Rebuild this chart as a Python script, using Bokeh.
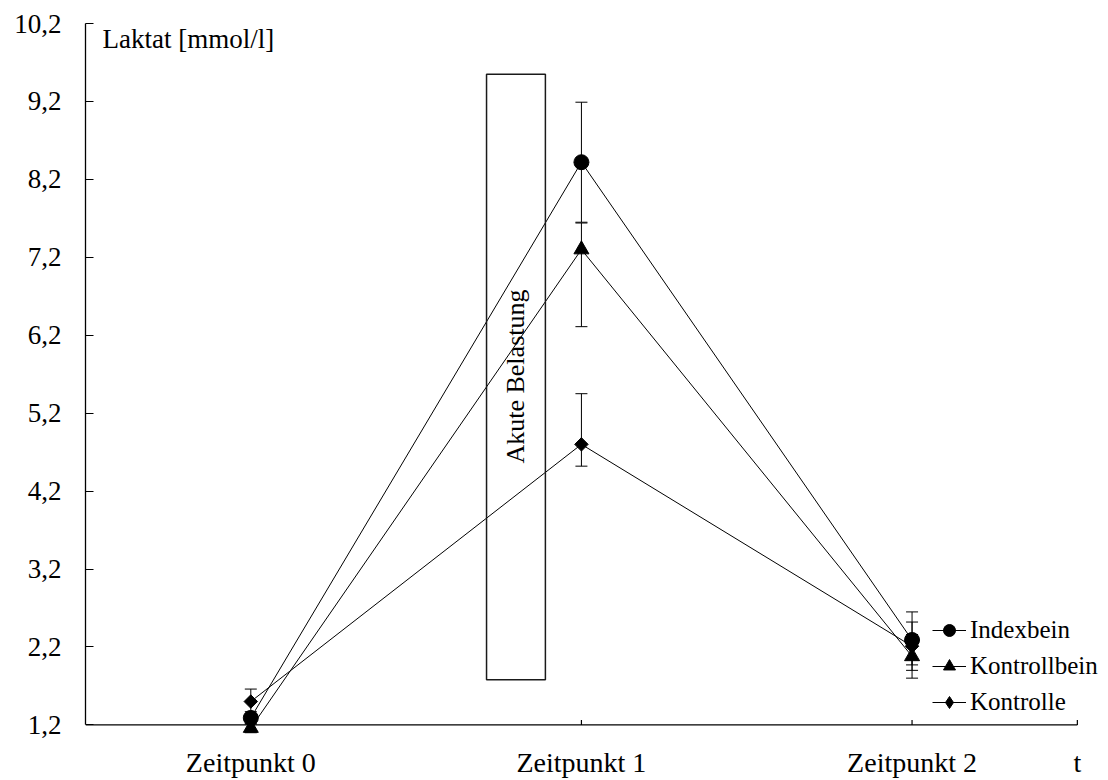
import math
from bokeh.plotting import figure
from bokeh.models import (Range1d, ColumnDataSource, Whisker, TeeHead,
                          BoxAnnotation, Label, Legend, LegendItem, FixedTicker)
from bokeh.embed import file_html
from bokeh.resources import INLINE

# ---- data ----
categories = ["Zeitpunkt 0", "Zeitpunkt 1", "Zeitpunkt 2"]
series_names = ["Indexbein", "Kontrollbein", "Kontrolle"]

indexbein = [1.29, 8.42, 2.29]
indexbein_err_up = [0.08, 0.77, 0.36]
indexbein_err_lo = [0.08, 0.77, 0.32]

kontrollbein = [1.16, 7.30, 2.08]
kontrollbein_err_up = [0.06, 0.34, 0.28]
kontrollbein_err_lo = [0.06, 0.99, 0.28]

kontrolle = [1.50, 4.80, 2.21]
kontrolle_err_up = [0.16, 0.65, 0.31]
kontrolle_err_lo = [0.16, 0.28, 0.31]

y_ticks = [1.2, 2.2, 3.2, 4.2, 5.2, 6.2, 7.2, 8.2, 9.2, 10.2]
y_tick_labels = ["1,2", "2,2", "3,2", "4,2", "5,2", "6,2", "7,2", "8,2", "9,2", "10,2"]
y_axis_title = "Laktat [mmol/l]"
x_axis_title = "t"
phase_label = "Akute Belastung"

FONT = "Liberation Serif"

# category slots on a numeric axis: slot i is centred at i + 0.5
x_pos = [i + 0.5 for i in range(len(categories))]
x_end = float(len(categories))
x_ticks = x_pos + [x_end]
x_tick_labels = dict(zip(x_ticks, categories + [x_axis_title]))
y_base = y_ticks[0]

p = figure(width=1108, height=780, output_backend="svg", toolbar_location=None,
           x_range=Range1d(0, 3.07), y_range=Range1d(1.0, 10.2),
           min_border_left=85, min_border_right=8, min_border_top=23, min_border_bottom=38)
p.outline_line_color = None
p.xgrid.visible = False
p.ygrid.visible = False
p.background_fill_color = "white"

# x axis: labels from the axis, line + ticks drawn at the y = 1.2 baseline
xa = p.xaxis[0]
xa.ticker = FixedTicker(ticks=x_ticks)
xa.major_label_overrides = x_tick_labels
xa.axis_line_color = None
xa.major_tick_line_color = None
xa.minor_tick_line_color = None
xa.major_tick_in = 0
xa.major_tick_out = 0
xa.major_label_standoff = 6
xa.major_label_text_font = FONT
xa.major_label_text_font_size = "28px"
xa.major_label_text_color = "black"

p.segment(x0=[0], y0=[y_base], x1=[x_end], y1=[y_base], line_color="black", line_width=1.3)
p.ray(x=x_ticks, y=[y_base] * len(x_ticks), length=5, length_units="screen",
      angle=math.pi / 2, line_color="black", line_width=1.2)

ya = p.yaxis[0]
ya.bounds = (y_ticks[0], y_ticks[-1])
ya.ticker = FixedTicker(ticks=y_ticks)
ya.major_label_overrides = dict(zip(y_ticks, y_tick_labels))
ya.axis_line_color = "black"
ya.axis_line_width = 1.3
ya.major_tick_in = 8
ya.major_tick_out = 0
ya.minor_tick_line_color = None
ya.major_tick_line_color = "black"
ya.major_tick_line_width = 1.2
ya.major_label_standoff = 24
ya.major_label_text_font = FONT
ya.major_label_text_font_size = "27px"
ya.major_label_text_color = "black"

# phase box
p.add_layout(BoxAnnotation(left=1.213, right=1.391, bottom=1.78, top=9.55,
                           fill_color=None, fill_alpha=0, line_color="#1a1a1a",
                           line_alpha=1, line_width=1.5))
p.add_layout(Label(x=1.302, y=5.67, text=phase_label, angle=math.pi / 2,
                   text_align="center", text_baseline="middle",
                   text_font=FONT, text_font_size="26px", text_color="black"))

# (name, values, err up, err low, chart marker, size, angle, legend marker, legend size)
series = [
    (series_names[0], indexbein, indexbein_err_up, indexbein_err_lo, "circle", 15, 0.0, None, None),
    (series_names[1], kontrollbein, kontrollbein_err_up, kontrollbein_err_lo, "triangle", 15, 0.0, None, None),
    (series_names[2], kontrolle, kontrolle_err_up, kontrolle_err_lo, "square", 9.5, math.pi / 4, "diamond", 15),
]

items = []
for name, vals, eu, el, marker, size, ang, leg_marker, leg_size in series:
    src = ColumnDataSource(dict(
        x=x_pos, y=vals,
        upper=[v + e for v, e in zip(vals, eu)],
        lower=[v - e for v, e in zip(vals, el)],
    ))
    ln = p.line("x", "y", source=src, line_color="black", line_width=1)
    w = Whisker(base="x", upper="upper", lower="lower", source=src,
                line_color="black", line_width=1,
                upper_head=TeeHead(size=12, line_color="black", line_width=1),
                lower_head=TeeHead(size=12, line_color="black", line_width=1))
    p.add_layout(w)
    sc = p.scatter("x", "y", source=src, marker=marker, size=size, angle=ang,
                   fill_color="black", line_color="black")
    if leg_marker is None:
        leg_r = sc
    else:
        # legend swatch (legend swatches ignore marker rotation); no visible points
        leg_r = p.scatter(x=[x_pos[0]], y=[float("nan")], marker=leg_marker, size=leg_size,
                          fill_color="black", line_color="black")
    items.append(LegendItem(label=name, renderers=[ln, leg_r]))

legend = Legend(items=items, location=(847, 23), orientation="vertical",
                border_line_color=None, background_fill_alpha=0,
                padding=0, margin=0, spacing=6,
                glyph_width=34, glyph_height=30, label_height=30,
                label_standoff=4,
                label_text_font=FONT, label_text_font_size="25px",
                label_text_color="black")
p.add_layout(legend, "center")

# y axis title
p.add_layout(Label(x=0, y=y_ticks[-1], text=y_axis_title, x_offset=17, y_offset=-15,
                   text_align="left", text_baseline="middle",
                   text_font=FONT, text_font_size="27px", text_color="black"))

open("out.html", "w").write(file_html(p, INLINE))
